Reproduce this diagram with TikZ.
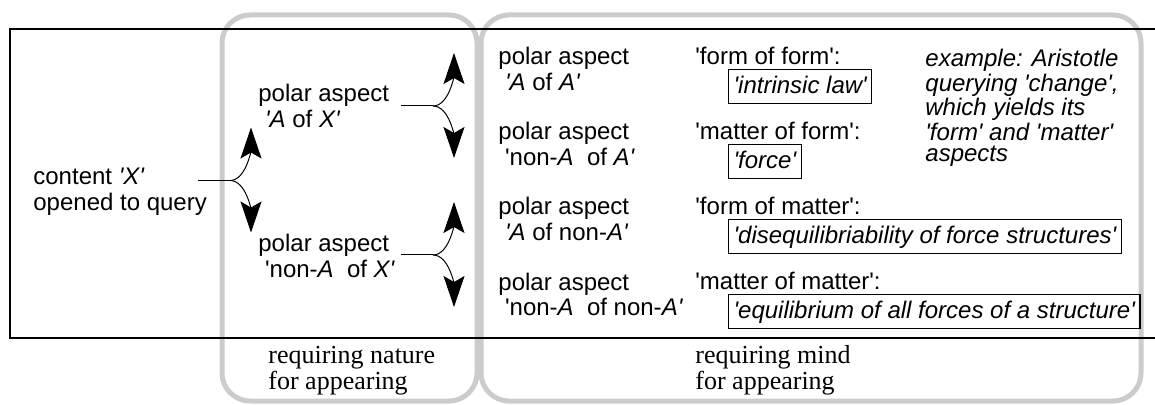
\documentclass[tikz,border=0pt]{standalone}
\usepackage{fontspec}
\setmainfont{Liberation Serif}
\setsansfont{Liberation Sans}[Ligatures=TeXOff]
\usetikzlibrary{arrows.meta}
\definecolor{realmgray}{HTML}{CCCCCC}

\tikzset{
  lbl/.style={font=\sffamily\fontsize{12}{13}\selectfont, align=left, anchor=base west, inner sep=0pt},
  note/.style={font=\sffamily\itshape\fontsize{12}{10.83}\selectfont, align=left, anchor=base west, inner sep=0pt},
  valbox/.style={draw, line width=0.6pt, font=\sffamily\itshape\fontsize{12}{13}\selectfont, anchor=base west,
    inner xsep=2.5pt, inner ysep=1.5pt, text height=10.5pt, text depth=3.5pt},
  realm/.style={draw=realmgray, line width=2.5pt, rounded corners=14pt},
  realmlbl/.style={font=\fontsize{13}{10.5}\selectfont, align=left, anchor=base west, inner sep=0pt},
  stem/.style={line width=0.5pt},
  split/.style={line width=0.5pt, -{Stealth[length=15.5pt, width=10.5pt, inset=3pt]}},
}

\begin{document}
\begin{tikzpicture}[x=0.5pt, y=-0.5pt]
  \useasboundingbox (0,0) rectangle (1155,405);

  % realms
  \draw[realm] (222,15) rectangle (477,401);
  \draw[realm] (481,15) rectangle (1141,401);
  \draw[line width=0.6pt] (1155,29) -- (10,29) -- (10,338) -- (1155,338);

  % multi-line nodes sit on the baseline of their last line
  \node[lbl] (content) at (33,210.5) {content \textit{'X'}\\opened to query};
  \node[lbl] (aspAX) at (258,128) {polar aspect\\\ \textit{'A} of \textit{X'}};
  \node[lbl] (aspNAX) at (258,277.5) {polar aspect\\\ 'non-\textit{A}\ \ of \textit{X'}};

  % branching arrows
  \foreach \j/\x/\y in {0/230/180.5, 1/433/106, 2/433/255} {
    \coordinate (s\j) at (\x-32,\y);
    \coordinate (j\j) at (\x,\y);
    \coordinate (u\j) at (\x+21,\y-53);
    \coordinate (d\j) at (\x+21,\y+52);
    \draw[stem] (s\j) -- (j\j);
    \draw[split] (j\j) .. controls +(16,0) and +(0,22) .. (u\j);
    \draw[split] (j\j) .. controls +(16,0) and +(0,-22) .. (d\j);
  }

  % four aspects of the second query
  \foreach \i/\y/\asp/\kind/\val in {
    1/65/{\textit{'A} of \textit{A'}}/{'form of form':}/{'intrinsic law'},
    2/140/{'non-\textit{A}\ \ of \textit{A'}}/{'matter of form':}/{'force'},
    3/215/{\textit{'A} of non-\textit{A'}}/{'form of matter':}/{'disequilibriability of force structures'},
    4/290/{'non-\textit{A}\ \ of non-\textit{A'}}/{'matter of matter':}/{'equilibrium of all forces of a structure'}} {
    \node[lbl] (asp\i) at (498,\y+26) {polar aspect\\\ \asp};
    \node[lbl] (kind\i) at (695,\y) {\kind};
    \node[valbox] (val\i) at (728,\y+28.3) {\val};
  }

  \node[note] (example) at (925,161.7) {example: Aristotle\\querying 'change',\\which yields its\\'form' and 'matter'\\aspects};

  \node[realmlbl] (nature) at (268,389) {requiring nature\\for appearing};
  \node[realmlbl] (mind) at (695,389) {requiring mind\\for appearing};
\end{tikzpicture}
\end{document}
